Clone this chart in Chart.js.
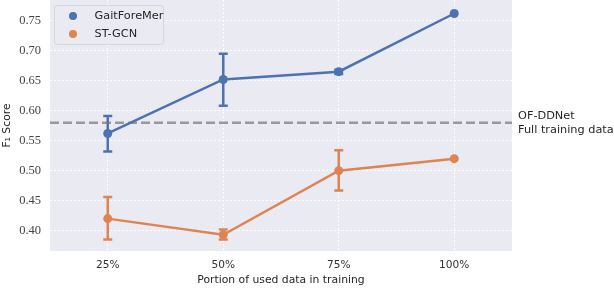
<!DOCTYPE html>
<html><head><meta charset="utf-8">
<script src="https://cdn.jsdelivr.net/npm/chart.js@4/dist/chart.umd.min.js"></script>
<style>html,body{margin:0;padding:0;background:#fff}#wrap{width:614px;height:288px}</style>
</head><body><div id="wrap"><canvas id="c" width="614" height="288"></canvas></div>
<script>
const categories = ['25%', '50%', '75%', '100%'];
const gaitValues = [0.562, 0.652, 0.665, 0.762];
const gaitLow = [0.532, 0.608, 0.661, 0.762];
const gaitHigh = [0.591, 0.695, 0.668, 0.762];
const stgcnValues = [0.420, 0.393, 0.500, 0.520];
const stgcnLow = [0.385, 0.385, 0.467, 0.520];
const stgcnHigh = [0.456, 0.402, 0.534, 0.520];
const baselineValue = 0.58;
const baselineLabel = ['OF-DDNet', 'Full training data'];
const yTicks = [0.40, 0.45, 0.50, 0.55, 0.60, 0.65, 0.70, 0.75];

const BLUE = '#4c72b0', ORANGE = '#dd8452';
const SANS = '"DejaVu Sans", sans-serif';

const bgPlugin = {
  id: 'bg',
  beforeDraw(chart) {
    const {ctx, chartArea: a} = chart;
    ctx.save(); ctx.fillStyle = '#eaeaf2';
    ctx.fillRect(a.left, a.top, a.right - a.left, a.bottom - a.top);
    ctx.restore();
  },
  beforeDatasetsDraw(chart) {
    const {ctx, chartArea: a, scales} = chart;
    const y = scales.y.getPixelForValue(baselineValue);
    ctx.save();
    ctx.strokeStyle = '#999999'; ctx.lineWidth = 2.5; ctx.setLineDash([9, 4]);
    ctx.beginPath(); ctx.moveTo(a.left, y); ctx.lineTo(a.right, y); ctx.stroke();
    ctx.setLineDash([]);
    ctx.fillStyle = '#262626'; ctx.font = '11.3px ' + SANS;
    ctx.textBaseline = 'middle'; ctx.textAlign = 'left';
    ctx.fillText(baselineLabel[0], a.right + 6, y - 7);
    ctx.fillText(baselineLabel[1], a.right + 6, y + 7.5);
    ctx.restore();
  },
  afterDatasetsDraw(chart) {
    const {ctx, scales} = chart;
    const sets = [[gaitLow, gaitHigh, BLUE], [stgcnLow, stgcnHigh, ORANGE]];
    ctx.save(); ctx.lineWidth = 2.5; ctx.lineCap = 'butt';
    sets.forEach(([lo, hi, col]) => {
      ctx.strokeStyle = col;
      categories.forEach((c, i) => {
        if (hi[i] - lo[i] < 0.0005) return;
        const x = scales.x.getPixelForValue(i);
        const y1 = scales.y.getPixelForValue(lo[i]);
        const y2 = scales.y.getPixelForValue(hi[i]);
        ctx.beginPath();
        ctx.moveTo(x, y1); ctx.lineTo(x, y2);
        ctx.moveTo(x - 4.5, y1); ctx.lineTo(x + 4.5, y1);
        ctx.moveTo(x - 4.5, y2); ctx.lineTo(x + 4.5, y2);
        ctx.stroke();
      });
    });
    ctx.restore();
    // legend
    const a = chart.chartArea;
    const bx = a.left + 4.5, by = a.top + 5.5, bw = 109, bh = 39;
    ctx.save();
    ctx.fillStyle = 'rgba(234,234,242,0.85)';
    ctx.strokeStyle = '#d5d5dd'; ctx.lineWidth = 1;
    ctx.beginPath(); ctx.roundRect(bx, by, bw, bh, 3); ctx.fill(); ctx.stroke();
    ctx.font = '11.3px ' + SANS; ctx.textBaseline = 'middle';
    chart.data.datasets.forEach((ds, i) => {
      const cy = by + 10.5 + i * 18;
      ctx.fillStyle = ds.borderColor;
      ctx.beginPath(); ctx.arc(bx + 18.5, cy, 4, 0, Math.PI * 2); ctx.fill();
      ctx.fillStyle = '#262626';
      ctx.fillText(ds.label, bx + 40, cy);
    });
    ctx.restore();
  }
};

new Chart(document.getElementById('c'), {
  type: 'line',
  data: {
    labels: categories,
    datasets: [
      {label: 'GaitForeMer', data: gaitValues, borderColor: BLUE, backgroundColor: BLUE,
       borderWidth: 2.5, pointRadius: 4.5, pointHoverRadius: 4.5, pointBorderWidth: 0, tension: 0, clip: false},
      {label: 'ST-GCN', data: stgcnValues, borderColor: ORANGE, backgroundColor: ORANGE,
       borderWidth: 2.5, pointRadius: 4.5, pointHoverRadius: 4.5, pointBorderWidth: 0, tension: 0, clip: false}
    ]
  },
  options: {
    responsive: false, animation: false,
    layout: {autoPadding: false, padding: {left: 0, right: 102, top: 0, bottom: 0}},
    plugins: {legend: {display: false}, tooltip: {enabled: false}},
    scales: {
      x: {
        offset: true,
        afterFit(s) { s.paddingLeft = 0; s.paddingRight = 0; s.height = 37; },
        grid: {color: '#ffffff', lineWidth: 1, drawTicks: false, offset: false},
        border: {display: false, dash: [2, 2]},
        ticks: {color: '#333333', font: {family: SANS, size: 10.6}, padding: 8},
        title: {display: true, text: 'Portion of used data in training', color: '#262626',
                font: {family: SANS, size: 10.8}, padding: {top: 0, bottom: 1}}
      },
      y: {
        min: 0.366, max: 0.7845,
        afterBuildTicks(scale) { scale.ticks = yTicks.map(v => ({value: v})); },
        afterFit(s) { s.paddingTop = 0; s.paddingBottom = 0; s.width = 50; },
        grid: {color: '#ffffff', lineWidth: 1, drawTicks: false},
        border: {display: false, dash: [2, 2]},
        ticks: {color: '#444444', font: {family: '"Liberation Serif", serif', size: 12.5}, padding: 9,
                callback: v => v.toFixed(2)},
        title: {display: true, text: 'F\u2081 Score', color: '#262626',
                font: {family: SANS, size: 10.8}, padding: {top: 1, bottom: 2}}
      }
    }
  },
  plugins: [bgPlugin]
});
</script></body></html>
